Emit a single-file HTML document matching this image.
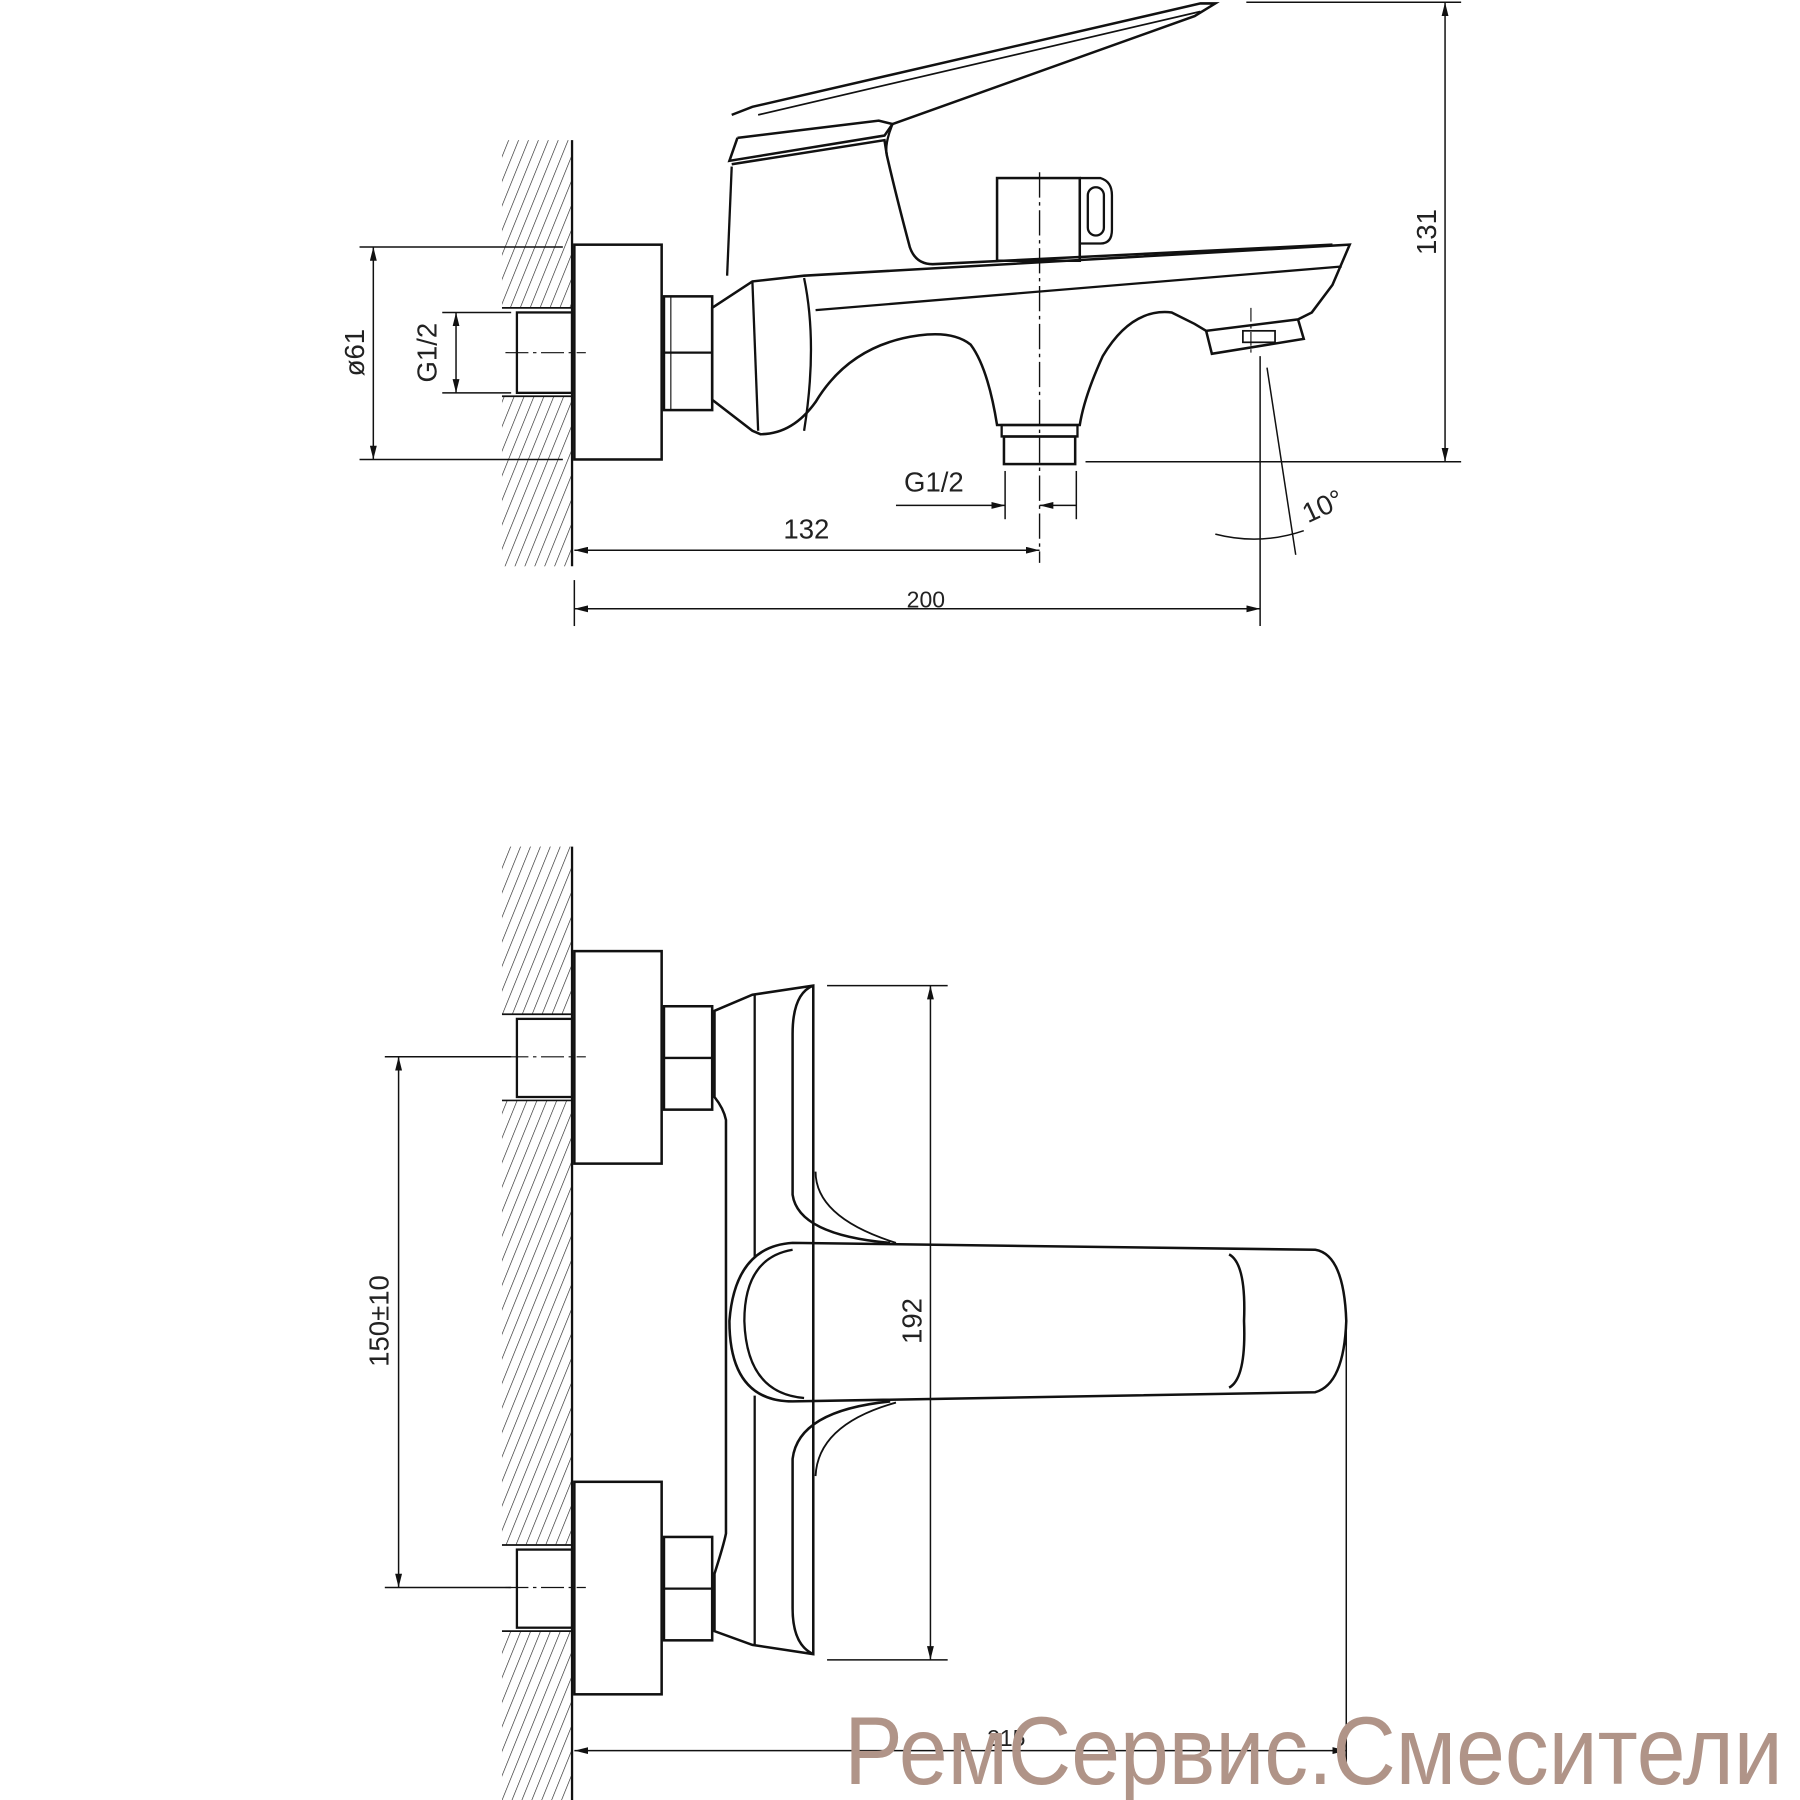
<!DOCTYPE html>
<html><head><meta charset="utf-8"><style>html,body{margin:0;padding:0;background:#fff}svg{display:block}</style></head>
<body>
<svg width="1800" height="1800" viewBox="0 0 1567 1567" xmlns="http://www.w3.org/2000/svg">
<defs>
<pattern id="h" width="8" height="8" patternUnits="userSpaceOnUse" patternTransform="rotate(22)">
<line x1="0" y1="0" x2="0" y2="8" stroke="#222" stroke-width="1.1"/>
</pattern>
<marker id="a" viewBox="0 0 12 6" refX="12" refY="3" markerWidth="12" markerHeight="6" orient="auto-start-reverse" markerUnits="userSpaceOnUse"><path d="M0,0L12,3L0,6z" fill="#111"/></marker>
</defs>
<g fill="none" stroke="#111">
<!-- TOP VIEW walls -->
<rect x="437" y="122" width="61" height="146" fill="url(#h)" stroke="none"/>
<rect x="437" y="345" width="61" height="148" fill="url(#h)" stroke="none"/>
<line x1="498" y1="122" x2="498" y2="493" stroke-width="2"/>
<line x1="437" y1="268" x2="498" y2="268" stroke-width="1.5"/>
<line x1="437" y1="345" x2="498" y2="345" stroke-width="1.5"/>
<rect x="450" y="272" width="48" height="70" stroke-width="2"/>
<line x1="440" y1="307" x2="510" y2="307" stroke-width="1" stroke-dasharray="20,4,3,4"/>
<rect x="500" y="213" width="76" height="187" stroke-width="2.2"/>
<rect x="578" y="258" width="42" height="99" stroke-width="2.2"/>
<line x1="578" y1="307" x2="620" y2="307" stroke-width="2"/>
<line x1="584" y1="258" x2="584" y2="357"/>
<!-- body side -->
<path d="M620,268 L655,245 L700,240 L1175,213 L1160,248 L1142,272 L1130,278 L1050,288 L1040,282 L1020,272 Q985,268 960,310 Q944,345 940,370 L868,370 Q860,320 845,300 Q830,288 800,292 Q740,300 710,350 Q690,378 662,378 L655,375 L620,348 Z" stroke-width="2.2"/>
<path d="M655,245 L660,375" stroke-width="2"/>
<path d="M700,242 Q712,300 700,375" stroke-width="2"/>
<path d="M710,270 L1168,232" stroke-width="2"/>
<rect x="872" y="370" width="66" height="10" stroke-width="2"/>
<rect x="874" y="380" width="62" height="24" stroke-width="2.2"/>
<path d="M1050,288 L1055,308 L1135,295 L1130,278" stroke-width="2.2"/>
<rect x="1082" y="288" width="28" height="10" stroke-width="1.5"/>
<!-- upper body and lever -->
<path d="M637,145 L633,240" stroke-width="2"/>
<path d="M637,143 L770,122 L772,135 Q780,170 792,215 Q797,230 812,230 L1160,213" stroke-width="2.2"/>
<path d="M642,120 L635,140 L770,118 L777,108 L765,105 L642,120" stroke-width="2.2"/>
<path d="M637,100 L655,93 L1045,3 L1058,3 L1040,14 L777,108" stroke-width="2.2"/>
<path d="M660,100 L1045,10" stroke-width="1.5"/>
<path d="M777,108 Q770,125 772,135" stroke-width="2"/>
<rect x="868" y="155" width="72" height="72" stroke-width="2.2"/>
<path d="M940,155 L958,155 Q968,158 968,170 L968,200 Q968,212 958,212 L940,212" stroke-width="2"/>
<rect x="947" y="163" width="14" height="42" rx="7" stroke-width="2"/>
<line x1="905" y1="150" x2="905" y2="490" stroke-width="1.2" stroke-dasharray="22,4,3,4"/>
<line x1="1089" y1="268" x2="1089" y2="310" stroke-width="1" stroke-dasharray="12,3,3,3"/>
<!-- top dims -->
<g stroke-width="1.3">
<line x1="313" y1="215" x2="490" y2="215"/><line x1="313" y1="400" x2="490" y2="400"/>
<line x1="325" y1="215" x2="325" y2="400" marker-start="url(#a)" marker-end="url(#a)"/>
<line x1="385" y1="272" x2="445" y2="272"/><line x1="385" y1="342" x2="445" y2="342"/>
<line x1="397" y1="272" x2="397" y2="342" marker-start="url(#a)" marker-end="url(#a)"/>
<line x1="1085" y1="2" x2="1272" y2="2"/><line x1="945" y1="402" x2="1272" y2="402"/>
<line x1="1258" y1="2" x2="1258" y2="402" marker-start="url(#a)" marker-end="url(#a)"/>
<line x1="500" y1="479" x2="905" y2="479" marker-start="url(#a)" marker-end="url(#a)"/>
<line x1="500" y1="505" x2="500" y2="545"/>
<line x1="500" y1="530" x2="1097" y2="530" marker-start="url(#a)" marker-end="url(#a)"/>
<line x1="1097" y1="310" x2="1097" y2="545"/>
<line x1="1103" y1="320" x2="1128" y2="483"/>
<line x1="875" y1="410" x2="875" y2="452"/><line x1="937" y1="410" x2="937" y2="452"/>
<line x1="780" y1="440" x2="875" y2="440" marker-end="url(#a)"/>
<line x1="905" y1="440" x2="937" y2="440" marker-start="url(#a)"/>
<path d="M1058,465 Q1097,475 1135,462"/>
</g>
<!-- BOTTOM VIEW walls -->
<rect x="437" y="737" width="61" height="146" fill="url(#h)" stroke="none"/>
<rect x="437" y="958" width="61" height="387" fill="url(#h)" stroke="none"/>
<rect x="437" y="1420" width="61" height="147" fill="url(#h)" stroke="none"/>
<line x1="498" y1="737" x2="498" y2="1567" stroke-width="2"/>
<line x1="437" y1="883" x2="498" y2="883" stroke-width="1.5"/><line x1="437" y1="958" x2="498" y2="958" stroke-width="1.5"/>
<line x1="437" y1="1345" x2="498" y2="1345" stroke-width="1.5"/><line x1="437" y1="1420" x2="498" y2="1420" stroke-width="1.5"/>
<rect x="450" y="887" width="48" height="68" stroke-width="2"/>
<rect x="450" y="1349" width="48" height="68" stroke-width="2"/>
<line x1="440" y1="920" x2="510" y2="920" stroke-width="1" stroke-dasharray="20,4,3,4"/>
<line x1="440" y1="1382" x2="510" y2="1382" stroke-width="1" stroke-dasharray="20,4,3,4"/>
<rect x="500" y="828" width="76" height="185" stroke-width="2.2"/>
<rect x="500" y="1290" width="76" height="185" stroke-width="2.2"/>
<rect x="578" y="876" width="42" height="90" stroke-width="2.2"/><line x1="578" y1="921" x2="620" y2="921" stroke-width="2"/>
<rect x="578" y="1338" width="42" height="90" stroke-width="2.2"/><line x1="578" y1="1383" x2="620" y2="1383" stroke-width="2"/>
<!-- body front -->
<path d="M622,880 L655,866 L708,858 L708,1440 L655,1432 L622,1420 L622,1370 Q630,1345 632,1335 L632,975 Q630,965 622,955 Z" stroke-width="2.2"/>
<line x1="657" y1="866" x2="657" y2="1095" stroke-width="2"/><line x1="657" y1="1215" x2="657" y2="1432" stroke-width="2"/>
<path d="M708,858 Q690,865 690,900 L690,1040 Q695,1075 775,1082" stroke-width="2.2"/>
<path d="M710,1020 Q710,1060 780,1082" stroke-width="1.6"/>
<path d="M708,1440 Q690,1432 690,1400 L690,1270 Q695,1228 775,1220" stroke-width="2.2"/>
<path d="M710,1285 Q712,1240 780,1221" stroke-width="1.6"/>
<path d="M690,1082 L1145,1088 Q1170,1092 1172,1150 Q1170,1205 1145,1212 L690,1220 Q635,1220 635,1150 Q640,1085 690,1082 Z" stroke-width="2.2"/>
<path d="M690,1088 Q648,1095 648,1150 Q650,1213 700,1217" stroke-width="2"/>
<path d="M1070,1092 Q1085,1100 1083,1150 Q1085,1200 1070,1208" stroke-width="2.2"/>
<!-- bottom dims -->
<g stroke-width="1.3">
<line x1="720" y1="858" x2="825" y2="858"/><line x1="720" y1="1445" x2="825" y2="1445"/>
<line x1="810" y1="858" x2="810" y2="1445" marker-start="url(#a)" marker-end="url(#a)"/>
<line x1="335" y1="920" x2="445" y2="920"/><line x1="335" y1="1382" x2="445" y2="1382"/>
<line x1="347" y1="920" x2="347" y2="1382" marker-start="url(#a)" marker-end="url(#a)"/>
<line x1="1172" y1="1155" x2="1172" y2="1535"/>
<line x1="500" y1="1524" x2="1172" y2="1524" marker-start="url(#a)" marker-end="url(#a)"/>
</g>
</g>
<g font-family="Liberation Sans, sans-serif" fill="#222" font-size="24">
<text x="702" y="469" text-anchor="middle">132</text>
<text x="806" y="529" text-anchor="middle" font-size="20">200</text>
<text x="813" y="428" text-anchor="middle">G1/2</text>
<text transform="translate(317,307) rotate(-90)" text-anchor="middle">ø61</text>
<text transform="translate(380,307) rotate(-90)" text-anchor="middle">G1/2</text>
<text transform="translate(1250,202) rotate(-90)" text-anchor="middle">131</text>
<text transform="translate(1155,448) rotate(-25)" text-anchor="middle">10°</text>
<text transform="translate(802,1150) rotate(-90)" text-anchor="middle">192</text>
<text transform="translate(338,1150) rotate(-90)" text-anchor="middle">150±10</text>
<text x="876" y="1520" text-anchor="middle" font-size="20">215</text>
</g>
<text x="1552" y="1553" text-anchor="end" font-family="Liberation Sans, sans-serif" font-size="84" fill="#b09488" textLength="817" lengthAdjust="spacingAndGlyphs">РемСервис.Смесители</text>
</svg>
</body></html>
